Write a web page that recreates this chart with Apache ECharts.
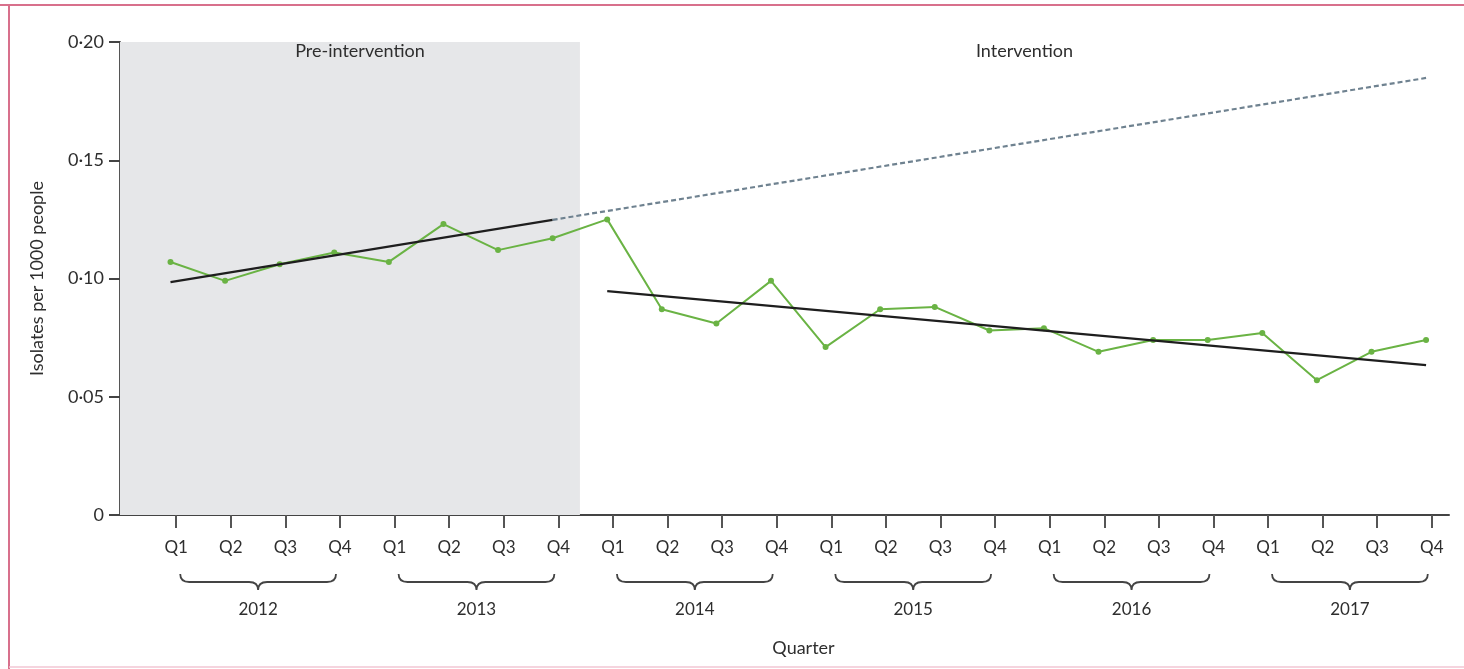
<!DOCTYPE html>
<html>
<head>
<meta charset="utf-8">
<title>Isolates per 1000 people by quarter</title>
<script src="https://cdn.jsdelivr.net/npm/echarts@6/dist/echarts.min.js"></script>
<style>
  html, body { margin: 0; padding: 0; background: #fff; }
  #chart { width: 1464px; height: 669px; }
</style>
</head>
<body>
<div id="chart"></div>
<script>
// data
var quarterLabels = ['Q1', 'Q2', 'Q3', 'Q4'];
var years = ['2012', '2013', '2014', '2015', '2016', '2017'];
var isolates = [0.107, 0.099, 0.106, 0.111, 0.107, 0.123, 0.112, 0.117,
                0.125, 0.087, 0.081, 0.099, 0.071, 0.087, 0.088, 0.078,
                0.079, 0.069, 0.074, 0.074, 0.077, 0.057, 0.069, 0.074];
var preTrend = [[0, 0.0985], [7, 0.1248]];
var expectedTrend = [[7, 0.1248], [23, 0.1848]];
var postTrend = [[8, 0.0947], [23, 0.0634]];
var interventionStart = 7.5;

var xMin = -0.925, xMax = 23.42;
var tickShift = 0.105; // ticks sit slightly right of the points in the original
var tickPos = isolates.map(function (v, i) { return i + tickShift; });
var textColor = '#2e2e2e';
var font = 'Lato';

var myChart = echarts.init(document.getElementById('chart'));

var option = {
	animation: false,
	textStyle: { fontFamily: font },
	grid: { left: 120, right: 15, top: 42, bottom: 154, containLabel: false },
	graphic: [
		{ type: 'line', shape: { x1: 0, y1: 5, x2: 1464, y2: 5 }, style: { stroke: '#d8708c', lineWidth: 2 } },
		{ type: 'line', shape: { x1: 9, y1: 4, x2: 9, y2: 669 }, style: { stroke: '#d8708c', lineWidth: 2 } },
		{ type: 'line', shape: { x1: 9, y1: 667, x2: 1464, y2: 667 }, style: { stroke: '#f2c6d3', lineWidth: 1.5 } }
	],
	xAxis: {
		type: 'value',
		min: xMin,
		max: xMax,
		name: 'Quarter',
		nameLocation: 'middle',
		nameGap: 124,
		nameTextStyle: { color: textColor, fontSize: 18, fontFamily: font, padding: [0, 0, 0, 38] },
		axisLine: { lineStyle: { color: '#444', width: 2 } },
		axisTick: { customValues: tickPos, length: 13, lineStyle: { color: '#555', width: 2 } },
		axisLabel: {
			customValues: tickPos,
			margin: 24,
			color: textColor,
			fontSize: 17,
			fontFamily: font,
			formatter: function (v) { return quarterLabels[Math.round(v - tickShift) % 4]; }
		},
		splitLine: { show: false }
	},
	yAxis: {
		type: 'value',
		min: 0,
		max: 0.2,
		interval: 0.05,
		name: 'Isolates per 1000 people',
		nameLocation: 'middle',
		nameGap: 74,
		nameRotate: 90,
		nameTextStyle: { color: textColor, fontSize: 18, fontFamily: font },
		axisLine: { show: true, onZero: false, lineStyle: { color: '#555', width: 2 } },
		axisTick: { show: true, length: 11, lineStyle: { color: '#444', width: 2 } },
		axisLabel: {
			margin: 16,
			color: textColor,
			fontSize: 18,
			fontFamily: font,
			formatter: function (v) {
				if (v === 0) return '0';
				return v.toFixed(2).replace('.', '·');
			}
		},
		splitLine: { show: false }
	},
	series: [
		{
			name: 'Isolates',
			type: 'line',
			data: isolates.map(function (v, i) { return [i, v]; }),
			symbol: 'circle',
			symbolSize: 6,
			lineStyle: { color: '#6ab344', width: 2 },
			itemStyle: { color: '#6ab344' },
			z: 3,
			markArea: {
				silent: true,
				data: [
					[{ xAxis: xMin, yAxis: 0, name: 'Pre-intervention',
					   itemStyle: { color: '#e6e7e9' } },
					 { xAxis: interventionStart, yAxis: 0.2 }],
					[{ xAxis: interventionStart, yAxis: 0, name: 'Intervention',
					   itemStyle: { color: 'rgba(0,0,0,0)' } },
					 { xAxis: xMax, yAxis: 0.2 }]
				],
				label: {
					position: 'insideTop',
					distance: 0,
					offset: [10, 0],
					color: textColor,
					fontSize: 18,
					fontFamily: font
				}
			}
		},
		{
			name: 'Pre-intervention trend',
			type: 'line',
			data: preTrend,
			symbol: 'none',
			lineStyle: { color: '#1e1e1e', width: 2.2 },
			z: 4
		},
		{
			name: 'Expected trend',
			type: 'line',
			data: expectedTrend,
			symbol: 'none',
			lineStyle: { color: '#6f8290', width: 2.2, type: [5, 3] },
			z: 4
		},
		{
			name: 'Intervention trend',
			type: 'line',
			data: postTrend,
			symbol: 'none',
			lineStyle: { color: '#1e1e1e', width: 2.2 },
			z: 4
		},
		{
			// year braces under the quarter labels
			name: 'Years',
			type: 'custom',
			clip: false,
			silent: true,
			data: years.map(function (y, i) { return [i * 4, i * 4 + 3, 0]; }),
			encode: { x: [0, 1], y: 2 },
			renderItem: function (params, api) {
				var a = api.coord([api.value(0) + tickShift, 0]);
				var b = api.coord([api.value(1) + tickShift, 0]);
				var x1 = a[0] + 4, x2 = b[0] - 4, xm = (x1 + x2) / 2;
				var y0 = a[1] + 59, ym = y0 + 8, y1 = y0 + 16, r = 9;
				var d = 'M' + x1 + ' ' + y0 +
					' Q' + x1 + ' ' + ym + ' ' + (x1 + r) + ' ' + ym +
					' L' + (xm - r) + ' ' + ym +
					' Q' + xm + ' ' + ym + ' ' + xm + ' ' + y1 +
					' Q' + xm + ' ' + ym + ' ' + (xm + r) + ' ' + ym +
					' L' + (x2 - r) + ' ' + ym +
					' Q' + x2 + ' ' + ym + ' ' + x2 + ' ' + y0;
				return {
					type: 'group',
					children: [
						{ type: 'path', shape: { pathData: d },
						  style: { fill: null, stroke: '#444', lineWidth: 1.8 } },
						{ type: 'text',
						  style: { text: years[params.dataIndex], x: xm, y: y1 + 20,
						           textAlign: 'center', textVerticalAlign: 'middle',
						           fill: textColor, fontSize: 17, fontFamily: font } }
					]
				};
			}
		}
	]
};

myChart.setOption(option);
</script>
</body>
</html>
